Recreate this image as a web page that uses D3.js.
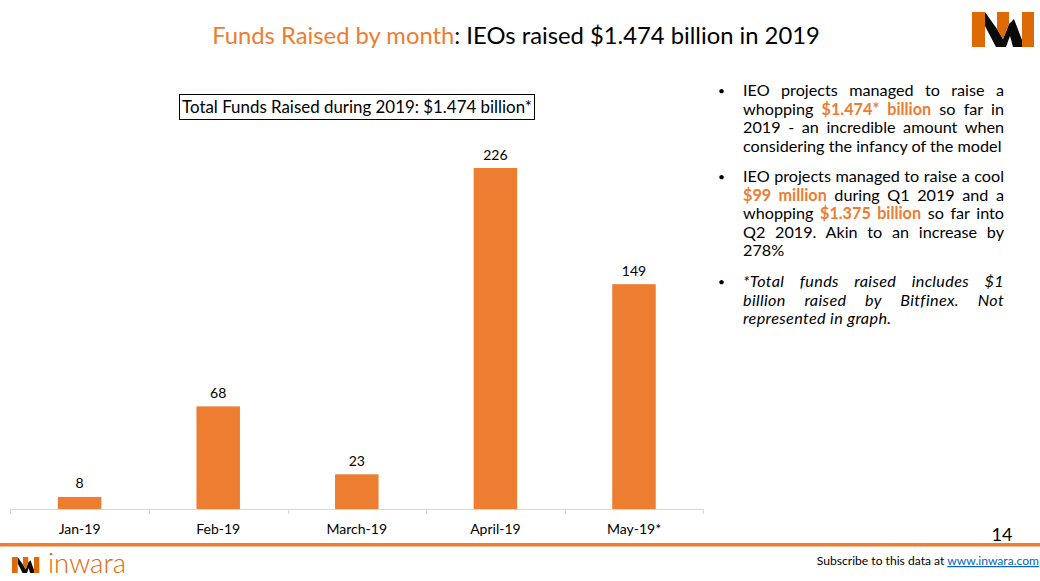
<!DOCTYPE html>
<html>
<head>
<meta charset="utf-8">
<script src="https://cdn.jsdelivr.net/npm/d3@7"></script>
<style>
  html, body { margin: 0; padding: 0; background: #fff; }
  svg { display: block; }
  text { font-family: Lato, "Open Sans", sans-serif; fill: #000; }
</style>
</head>
<body>
<div id="chart"></div>
<script>
const months = ["Jan-19", "Feb-19", "March-19", "April-19", "May-19*"];
const raised = [8, 68, 23, 226, 149];

const orange = "#ED7D31";

const titleParts = [
  ["Funds Raised by month", orange],
  [": IEOs raised $1.474 billion in 2019", "#000"]
];
const boxLabel = "Total Funds Raised during 2019: $1.474 billion*";

// each line is a list of [text, bold] runs, last flag says if it gets justified
const bullets = [
  { y: 91, italic: false, lines: [
    { runs: [["IEO projects managed to raise a", false]], just: true },
    { runs: [["whopping ", false], ["$1.474* billion", true], [" so far in", false]], just: true },
    { runs: [["2019 - an incredible amount when", false]], just: true },
    { runs: [["considering the infancy of the model", false]], just: false }
  ]},
  { y: 177, italic: false, lines: [
    { runs: [["IEO projects managed to raise a cool", false]], just: true },
    { runs: [["$99 million", true], [" during Q1 2019 and a", false]], just: true },
    { runs: [["whopping ", false], ["$1.375 billion", true], [" so far into", false]], just: true },
    { runs: [["Q2 2019. Akin to an increase by", false]], just: true },
    { runs: [["278%", false]], just: false }
  ]},
  { y: 282, italic: true, lines: [
    { runs: [["*Total funds raised includes $1", false]], just: true },
    { runs: [["billion raised by Bitfinex. Not", false]], just: true },
    { runs: [["represented in graph.", false]], just: false }
  ]}
];

const width = 1040, height = 581;
const svg = d3.select("#chart").append("svg")
  .attr("width", width)
  .attr("height", height);

// title
const title = svg.append("text")
  .attr("x", 516)
  .attr("y", 44)
  .attr("text-anchor", "middle")
  .style("font-size", "23.8px");
title.selectAll("tspan").data(titleParts).join("tspan")
  .style("fill", d => d[1])
  .text(d => d[0]);

// bars
const x = d3.scaleBand().domain(months).range([10.3, 703.3]).paddingInner(0).paddingOuter(0);
const y = d3.scaleLinear().domain([0, 226]).range([509, 168]);
const barWidth = 43.5;

svg.selectAll("rect.bar").data(raised).join("rect")
  .attr("class", "bar")
  .attr("x", (d, i) => x(months[i]) + x.bandwidth() / 2 - barWidth / 2)
  .attr("y", d => y(d))
  .attr("width", barWidth)
  .attr("height", d => y(0) - y(d))
  .attr("fill", orange);

svg.selectAll("text.value").data(raised).join("text")
  .attr("class", "value")
  .attr("x", (d, i) => x(months[i]) + x.bandwidth() / 2)
  .attr("y", d => y(d) - 8.5)
  .attr("text-anchor", "middle")
  .style("font-size", "14px")
  .text(d => d);

// axis, ticks sit on the band edges
const axisColor = "#D9D9D9";
svg.append("line")
  .attr("x1", x.range()[0]).attr("x2", x.range()[1])
  .attr("y1", 509.5).attr("y2", 509.5)
  .attr("stroke", axisColor);
const edges = months.map(m => x(m)).concat([x.range()[1]]);
svg.selectAll("line.tick").data(edges).join("line")
  .attr("class", "tick")
  .attr("x1", d => Math.round(d) + 0.5).attr("x2", d => Math.round(d) + 0.5)
  .attr("y1", 509).attr("y2", 514)
  .attr("stroke", axisColor);
svg.selectAll("text.month").data(months).join("text")
  .attr("class", "month")
  .attr("x", d => x(d) + x.bandwidth() / 2)
  .attr("y", 534)
  .attr("text-anchor", "middle")
  .style("font-size", "14px")
  .text(d => d);

// total box
svg.append("rect")
  .attr("x", 179.5).attr("y", 94.5)
  .attr("width", 355).attr("height", 25)
  .attr("fill", "#fff")
  .attr("stroke", "#000");
svg.append("text")
  .attr("x", 357).attr("y", 113)
  .attr("text-anchor", "middle")
  .style("font-size", "16.9px")
  .text(boxLabel);

// bullet text, justified by hand since svg has no text-align
const textLeft = 743, textRight = 1004, lineHeight = 18.5;
bullets.forEach(b => {
  svg.append("text")
    .attr("x", 718).attr("y", b.y + 4)
    .style("font-size", "12px")
    .text("•");
  b.lines.forEach((line, i) => {
    const t = svg.append("text")
      .attr("x", textLeft)
      .attr("y", b.y + 5 + i * lineHeight)
      .attr("xml:space", "preserve")
      .style("white-space", "pre")
      .style("font-size", "16.2px")
      .style("letter-spacing", b.italic ? "0.35px" : "0")
      .style("font-style", b.italic ? "italic" : "normal");
    line.runs.forEach(r => {
      t.append("tspan")
        .style("font-weight", r[1] ? "bold" : "normal")
        .style("fill", r[1] ? orange : "#000")
        .text(r[0]);
    });
    if (line.just) {
      const gaps = line.runs.map(r => r[0]).join("").split(" ").length - 1;
      const extra = (textRight - textLeft - t.node().getComputedTextLength()) / gaps;
      t.style("word-spacing", extra + "px");
    }
  });
});

// page number
svg.append("text")
  .attr("x", 1002).attr("y", 541)
  .attr("text-anchor", "middle")
  .style("font-size", "18px")
  .text("14");

// footer rule
svg.append("rect")
  .attr("x", 0).attr("y", 543)
  .attr("width", width).attr("height", 3.5)
  .attr("fill", orange);

// footer text
const sub = svg.append("text")
  .attr("x", 1039).attr("y", 565)
  .attr("text-anchor", "end")
  .style("font-size", "12.1px");
sub.append("tspan").text("Subscribe to this data at ");
sub.append("tspan")
  .style("fill", "#0563C1")
  .style("text-decoration", "underline")
  .text("www.inwara.com");

// logo is drawn on a 62x35 box
function logo(g) {
  const logoOrange = "#DD6A05";
  g.append("path")
    .attr("d", "M13 0 L25 17 L31 27 L37 12 L42 7 L50 28 L50 35 L41 35 L38 24 L34 35 L24 35 L13 14 Z")
    .attr("fill", "#0a0a0a");
  g.append("path")
    .attr("d", "M0 0 L13 0 L13 35 L0 35 Z M25 0 L37 0 L37 12 L31 27 L25 17 Z M50 0 L62 0 L62 35 L50 35 Z")
    .attr("fill", logoOrange);
}
svg.append("g").attr("transform", "translate(972,12)").call(logo);
svg.append("g").attr("transform", "translate(12,557) scale(0.44,0.46)").call(logo);

svg.append("text")
  .attr("x", 48).attr("y", 573)
  .style("font-size", "27.5px")
  .style("font-weight", "300")
  .style("fill", "#DD6A05")
  .text("inwara");
</script>
</body>
</html>
